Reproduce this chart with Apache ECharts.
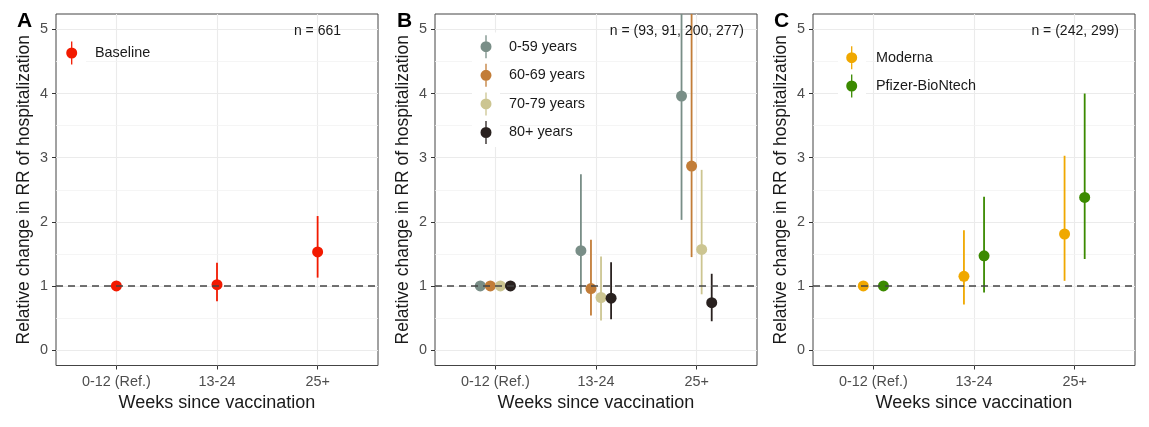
<!DOCTYPE html>
<html>
<head>
<meta charset="utf-8">
<script src="https://cdn.jsdelivr.net/npm/echarts@6/dist/echarts.min.js"></script>
<style>
  html, body { margin: 0; padding: 0; background: #ffffff; }
  #chart { width: 1149px; height: 427px; }
</style>
</head>
<body>
<div id="chart"></div>
<script>
// Categories and tick labels
const weekBins = ['0-12 (Ref.)', '13-24', '25+'];
const yTickValues = [0, 1, 2, 3, 4, 5];
const panelLetters = ['A', 'B', 'C'];
const sampleSizes = ['n = 661', 'n = (93, 91, 200, 277)', 'n = (242, 299)'];

// Panel A: all vaccinated
const baselineEst = [1.00, 1.02, 1.53];
const baselineLo  = [1.00, 0.76, 1.13];
const baselineHi  = [1.00, 1.36, 2.09];

// Panel B: by age group
const ageGroups = ['0-59 years', '60-69 years', '70-79 years', '80+ years'];
const age059Est  = [1.00, 1.55, 3.96];
const age059Lo   = [1.00, 0.88, 2.03];
const age059Hi   = [1.00, 2.74, 7.60];
const age6069Est = [1.00, 0.96, 2.87];
const age6069Lo  = [1.00, 0.54, 1.45];
const age6069Hi  = [1.00, 1.72, 6.10];
const age7079Est = [1.00, 0.82, 1.57];
const age7079Lo  = [1.00, 0.46, 0.87];
const age7079Hi  = [1.00, 1.46, 2.81];
const age80Est   = [1.00, 0.81, 0.74];
const age80Lo    = [1.00, 0.48, 0.45];
const age80Hi    = [1.00, 1.37, 1.19];

// Panel C: by vaccine
const vaccines = ['Moderna', 'Pfizer-BioNtech'];
const modernaEst = [1.00, 1.15, 1.81];
const modernaLo  = [1.00, 0.71, 1.08];
const modernaHi  = [1.00, 1.87, 3.03];
const pfizerEst  = [1.00, 1.47, 2.38];
const pfizerLo   = [1.00, 0.90, 1.42];
const pfizerHi   = [1.00, 2.39, 4.00];

const FONT = "'Liberation Sans', Arial, Helvetica, sans-serif";
const GRID_COLOR = '#ebebeb';

// Point-range glyph: vertical bar through a dot
const pointRangeIcon = 'path://M4.85,0H6.15V23H4.85Z M0,11.5A5.5,5.5,0,1,1,11,11.5A5.5,5.5,0,1,1,0,11.5Z';

const panels = [
  { left: 56,  groups: [
      { name: 'Baseline', color: '#F21A00', est: baselineEst, lo: baselineLo, hi: baselineHi }
    ], dodge: [0] },
  { left: 435, groups: [
      { name: ageGroups[0], color: '#798E87', est: age059Est,  lo: age059Lo,  hi: age059Hi },
      { name: ageGroups[1], color: '#C27D38', est: age6069Est, lo: age6069Lo, hi: age6069Hi },
      { name: ageGroups[2], color: '#CCC591', est: age7079Est, lo: age7079Lo, hi: age7079Hi },
      { name: ageGroups[3], color: '#29211F', est: age80Est,   lo: age80Lo,   hi: age80Hi }
    ], dodge: [-0.15, -0.05, 0.05, 0.15] },
  { left: 813, groups: [
      { name: vaccines[0], color: '#F0A800', est: modernaEst, lo: modernaLo, hi: modernaHi },
      { name: vaccines[1], color: '#3B8A00', est: pfizerEst,  lo: pfizerLo,  hi: pfizerHi }
    ], dodge: [-0.1, 0.1] }
];

const PANEL_TOP = 14, PANEL_W = 322, PANEL_H = 351.5;

function renderRange(params, api) {
  const x = api.value(0), est = api.value(1), lo = api.value(2), hi = api.value(3);
  const cs = params.coordSys;
  const pEst = api.coord([x, est]);
  const pLo = api.coord([x, lo]);
  const pHi = api.coord([x, hi]);
  const top = Math.max(pHi[1], cs.y);
  const bottom = Math.min(pLo[1], cs.y + cs.height);
  const color = api.visual('color');
  const children = [];
  if (bottom - top > 0.5) {
    children.push({ type: 'line', shape: { x1: pEst[0], y1: bottom, x2: pEst[0], y2: top },
                    style: { stroke: color, lineWidth: 1.8 } });
  }
  children.push({ type: 'circle', shape: { cx: pEst[0], cy: pEst[1], r: 5.5 }, style: { fill: color } });
  return { type: 'group', children };
}

const grids = [], xAxes = [], yAxes = [], series = [], legends = [], graphics = [];

panels.forEach((p, gi) => {
  grids.push({ left: p.left, top: PANEL_TOP, width: PANEL_W, height: PANEL_H,
               show: true, borderColor: '#444', borderWidth: 1, backgroundColor: 'transparent' });
  xAxes.push({
    type: 'value', gridIndex: gi, min: 0.4, max: 3.6,
    name: 'Weeks since vaccination', nameLocation: 'middle', nameGap: 27,
    nameTextStyle: { fontFamily: FONT, fontSize: 18, color: '#1a1a1a' },
    axisLine: { show: false, onZero: false },
    axisTick: { show: true, length: 4, customValues: [1, 2, 3], lineStyle: { color: '#333' } },
    axisLabel: { customValues: [1, 2, 3], margin: 9.5, fontFamily: FONT, fontSize: 14.4, color: '#4d4d4d',
                 formatter: v => weekBins[Math.round(v) - 1] },
    splitLine: { show: true, lineStyle: { color: GRID_COLOR, width: 1.1 } }
  });
  yAxes.push({
    type: 'value', gridIndex: gi, min: -0.24, max: 5.24,
    name: 'Relative change in RR of hospitalization', nameLocation: 'middle', nameGap: 23,
    nameTextStyle: { fontFamily: FONT, fontSize: 17.5, color: '#1a1a1a' },
    axisLine: { show: false, onZero: false },
    axisTick: { show: true, length: 4, customValues: yTickValues, lineStyle: { color: '#333' } },
    axisLabel: { customValues: yTickValues, margin: 8, fontFamily: FONT, fontSize: 14.4, color: '#4d4d4d' },
    splitLine: { show: true, lineStyle: { color: GRID_COLOR, width: 1.1 } }
  });

  // minor horizontal grid lines
  series.push({
    type: 'line', xAxisIndex: gi, yAxisIndex: gi, data: [], z: 0, silent: true,
    markLine: { silent: true, z: 0, symbol: ['none', 'none'], label: { show: false }, animation: false,
      lineStyle: { color: '#f2f2f2', width: 0.8, type: 'solid' },
      data: [0.5, 1.5, 2.5, 3.5, 4.5].map(v => ({ yAxis: v })) }
  });

  p.groups.forEach((g, k) => {
    series.push({
      type: 'custom', name: g.name, xAxisIndex: gi, yAxisIndex: gi,
      itemStyle: { color: g.color }, z: 3, silent: true, animation: false,
      encode: { x: 0, y: [1, 2, 3] },
      renderItem: renderRange,
      data: g.est.map((v, i) => [i + 1 + p.dodge[k], v, g.lo[i], g.hi[i]])
    });
  });

  // reference line at RR change = 1
  series.push({
    type: 'line', xAxisIndex: gi, yAxisIndex: gi, data: [], z: 6, silent: true,
    markLine: { silent: true, z: 6, symbol: ['none', 'none'], label: { show: false }, animation: false,
      lineStyle: { color: '#444', width: 1.6, type: [7, 5] },
      data: [{ yAxis: 1 }] }
  });
});

// legends
const legendPos = [
  { left: 66.2, top: 41.5, pad: 12.8, gap: 5.6 },
  { left: 480.5, top: 35.2, pad: 12.5, gap: 5.6 },
  { left: 846.2, top: 46.2, pad: 13.8, gap: 5.3 }
];
panels.forEach((p, gi) => {
  const lp = legendPos[gi];
  legends.push({
    orient: 'vertical', left: lp.left, top: lp.top, padding: 0,
    itemWidth: 11, itemHeight: 23, itemGap: lp.gap, selectedMode: false, z: 5,
    textStyle: { fontFamily: FONT, fontSize: 14.4, color: '#1a1a1a', padding: [0, 0, 0, lp.pad] },
    data: p.groups.map(g => ({ name: g.name, icon: pointRangeIcon }))
  });
});

// white legend key backgrounds
const keyBoxes = [
  { x: 57.5, y: 39, w: 28.5, h: 28.5 },
  { x: 472, y: 32.5, w: 28, h: 114.5 },
  { x: 838, y: 43.5, w: 28, h: 57 }
];
keyBoxes.forEach(b => graphics.push({ type: 'rect', z: 1, silent: true,
  shape: { x: b.x, y: b.y, width: b.w, height: b.h }, style: { fill: '#ffffff' } }));

// panel letters and sample sizes
const letterX = [17, 397, 774];
const nRight = [341, 744, 1119];
panels.forEach((p, gi) => {
  graphics.push({ type: 'text', z: 10, x: letterX[gi], y: 11,
    style: { text: panelLetters[gi], font: "bold 21px " + FONT, fill: '#000', textAlign: 'left', textVerticalAlign: 'top' } });
  graphics.push({ type: 'text', z: 10, x: nRight[gi], y: 31,
    style: { text: sampleSizes[gi], font: "14px " + FONT, fill: '#1a1a1a', textAlign: 'right', textVerticalAlign: 'middle' } });
});

const chart = echarts.init(document.getElementById('chart'), null, { renderer: 'canvas' });
chart.setOption({
  animation: false,
  backgroundColor: '#ffffff',
  grid: grids, xAxis: xAxes, yAxis: yAxes,
  legend: legends, series: series, graphic: graphics
});
</script>
</body>
</html>
